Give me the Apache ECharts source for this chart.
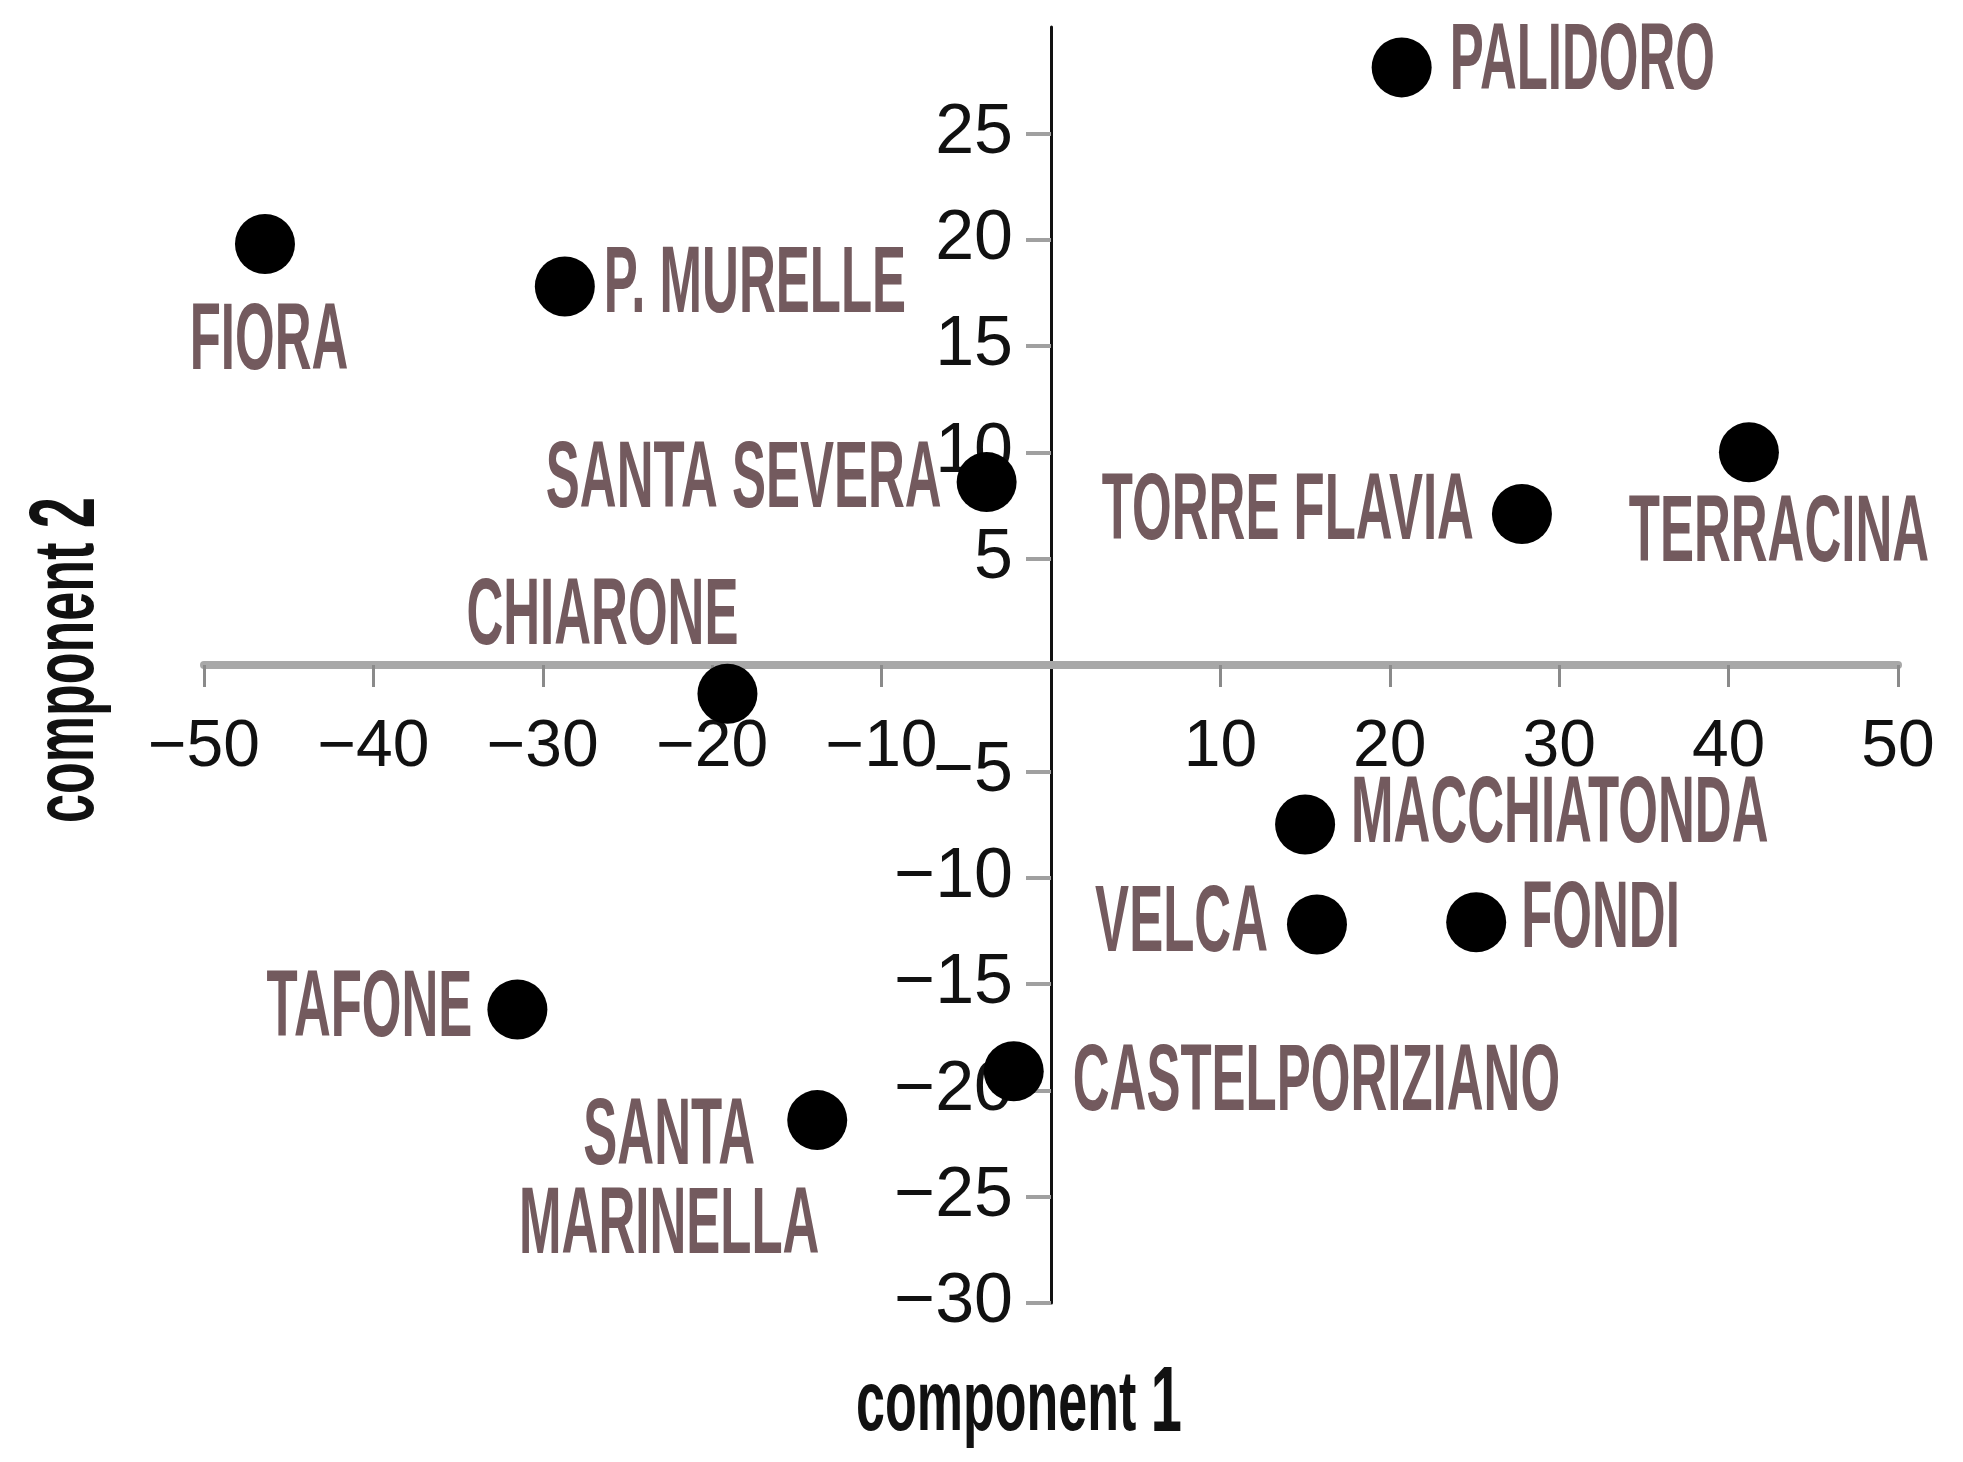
<!DOCTYPE html>
<html>
<head>
<meta charset="utf-8">
<script src="https://cdn.jsdelivr.net/npm/echarts@6/dist/echarts.min.js"></script>
<style>html,body{margin:0;padding:0;background:#fff}#c{width:1963px;height:1462px}</style>
</head>
<body>
<div id="c"></div>
<script>
// ---- data ----
const sites = ['PALIDORO','FIORA','P. MURELLE','SANTA SEVERA','TERRACINA','TORRE FLAVIA','CHIARONE','MACCHIATONDA','VELCA','FONDI','TAFONE','CASTELPORIZIANO','SANTA\nMARINELLA'];
const comp1 = [20.7, -46.4, -28.7, -3.8, 41.2, 27.8, -19.1, 15.0, 15.7, 25.1, -31.5, -2.2, -13.8];
const comp2 = [28.1, 19.8, 17.8, 8.6, 10.0, 7.1, -1.35, -7.5, -12.2, -12.1, -16.2, -19.1, -21.4];
const xTicks = [-50,-40,-30,-20,-10,10,20,30,40,50];
const yTicks = [-30,-25,-20,-15,-10,-5,5,10,15,20,25];
const xRange = [-50, 50];
const yRange = [-30, 30];

// ---- label placement (pixel offsets from dot centre; style only) ----
const labelPlace = [
  {dx:48, dy:-4, align:'left'},
  {dx:4, dy:99, align:'center'},
  {dx:39, dy:0, align:'left'},
  {dx:-45, dy:-1, align:'right'},
  {dx:30, dy:83, align:'center'},
  {dx:-48, dy:-1, align:'right'},
  {dx:-125, dy:-76, align:'center'},
  {dx:46, dy:-8, align:'left'},
  {dx:-49, dy:1, align:'right'},
  {dx:45, dy:-1, align:'left'},
  {dx:-45, dy:1, align:'right'},
  {dx:59, dy:13, align:'left'},
  {dx:-148, dy:63, align:'center'}
];

const points = comp1.map((v, i) => [v, comp2[i], sites[i]]);
const LABEL_COLOR = '#735a5e';
const LABEL_FONT = '"Liberation Sans Narrow", "Liberation Sans", Arial, sans-serif';
const SY = 1.84;

const W = 1963, H = 1462;
const G = {left: 204, right: 65, top: 27, bottom: 159};
const gw = W - G.left - G.right, gh = H - G.top - G.bottom;
// place axes at the zero lines
const xAxisOffset = -gh * (0 - yRange[0]) / (yRange[1] - yRange[0]);
const yAxisOffset = -gw * (0 - xRange[0]) / (xRange[1] - xRange[0]);
const fmt = v => (v < 0 ? '\u2212' + Math.abs(v) : String(v));

const chart = echarts.init(document.getElementById('c'));
chart.setOption({
  backgroundColor: '#fff',
  animation: false,
  grid: G,
  xAxis: {
    type: 'value', min: xRange[0], max: xRange[1], interval: 10,
    position: 'bottom', offset: xAxisOffset,
    splitLine: {show: false},
    axisLine: {onZero: false, lineStyle: {color: '#a8a8a8', width: 8}},
    axisTick: {show: true, customValues: xTicks, length: 22, lineStyle: {color: '#8a8a8a', width: 3}},
    axisLabel: {customValues: xTicks, margin: 50, color: '#111', fontSize: 66,
      fontFamily: '"Liberation Sans", Arial, sans-serif', formatter: fmt}
  },
  yAxis: {
    type: 'value', min: yRange[0], max: yRange[1], interval: 5,
    position: 'left', offset: yAxisOffset,
    splitLine: {show: false},
    axisLine: {onZero: false, lineStyle: {color: '#111', width: 3}},
    axisTick: {show: true, customValues: yTicks, length: 25, lineStyle: {color: '#a0a0a0', width: 4}},
    axisLabel: {customValues: yTicks, margin: 38, color: '#111', fontSize: 70,
      fontFamily: '"Liberation Sans", Arial, sans-serif', formatter: fmt}
  },
  graphic: [
    {type: 'text', x: 1019, y: 1406, scaleY: 1.65,
      style: {text: '{a|component }{b|1}', align: 'center', verticalAlign: 'middle',
        rich: {
          a: {fontFamily: LABEL_FONT, fontSize: 52, fontWeight: 'bold', fill: '#111'},
          b: {fontFamily: LABEL_FONT, fontSize: 56, fontWeight: 'bold', fill: '#111'}
        }}},
    {type: 'text', x: 69, y: 660, rotation: Math.PI / 2, scaleY: 1.65,
      style: {text: '{a|component }{b|2}', align: 'center', verticalAlign: 'middle',
        rich: {
          a: {fontFamily: LABEL_FONT, fontSize: 52, fontWeight: 'bold', fill: '#111'},
          b: {fontFamily: LABEL_FONT, fontSize: 56, fontWeight: 'bold', fill: '#111'}
        }}}
  ],
  series: [
    {
      type: 'scatter', data: points, symbolSize: 60, z: 5,
      itemStyle: {color: '#000', opacity: 1}
    },
    {
      type: 'custom', data: points, z: 6,
      renderItem: function (params, api) {
        const c = api.coord([api.value(0), api.value(1)]);
        const p = labelPlace[params.dataIndex];
        return {
          type: 'text',
          x: c[0] + p.dx, y: c[1] + p.dy,
          scaleY: SY,
          style: {
            x: 0, y: 0,
            text: sites[params.dataIndex],
            align: p.align, verticalAlign: 'middle',
            fontFamily: LABEL_FONT, fontWeight: 'bold', fontSize: 51,
            lineHeight: 89 / SY,
            fill: LABEL_COLOR
          }
        };
      }
    }
  ]
});
</script>
</body>
</html>
